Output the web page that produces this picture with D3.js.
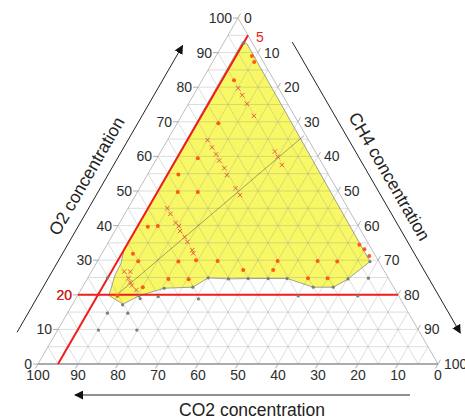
<!DOCTYPE html>
<html>
<head>
<meta charset="utf-8">
<script src="https://cdn.jsdelivr.net/npm/d3@7"></script>
<style>
  html, body { margin: 0; padding: 0; background: #fff; }
  svg { display: block; }
</style>
</head>
<body>
<svg id="chart" width="465" height="419"></svg>
<script>
// ---- values (each point is [O2 %, CH4 %]; CO2 = 100 - O2 - CH4) ----
const tickValues = d3.range(0, 101, 10);
const gridValues = d3.range(5, 100, 5);

const ch4Limit = 5;   // red reference line of constant CH4
const o2Limit = 20;   // red reference line of constant O2

// shaded zone outline
const zoneBoundary = [
  [93.2, 4.6], [92.5, 6.0], [29.6, 68.2], [24.3, 65.0], [22.2, 62.7], [22.2, 57.7],
  [24.7, 50.0], [24.7, 45.2], [24.7, 40.2], [24.6, 35.3], [24.9, 30.1], [22.2, 27.6],
  [21.9, 20.6], [19.7, 15.4], [17.3, 12.6], [19.8, 7.8], [21.6, 7.4], [25.7, 6.4],
  [29.1, 6.2], [33.0, 5.0]
];

// filled orange points
const orangeDots = [
  [89.0, 9.0], [87.3, 10.4], [82.0, 8.0], [69.6, 10.3], [59.5, 10.2], [54.8, 7.7],
  [49.7, 10.1], [49.7, 15.1], [39.7, 7.6], [39.9, 10.0], [31.9, 7.8], [29.7, 10.2],
  [29.6, 20.3], [30.0, 24.5], [29.8, 30.0], [27.2, 37.7], [29.8, 45.0], [27.2, 45.2],
  [29.8, 55.0], [29.6, 60.0], [24.8, 55.1], [24.8, 60.0], [34.5, 63.1], [33.2, 65.0],
  [31.2, 67.2], [24.6, 20.3], [24.5, 25.4], [22.2, 15.1], [19.7, 10.0]
];

// red cross points
const redCrosses = [
  [79.7, 10.2], [77.7, 12.2], [75.2, 14.6], [71.7, 18.1], [61.4, 28.5], [59.9, 30.0],
  [57.5, 32.2], [54.6, 19.9], [50.8, 24.0], [48.8, 26.1], [64.7, 10.0], [62.6, 12.2],
  [60.6, 14.2], [58.8, 15.9], [56.6, 18.3], [45.0, 9.8], [43.4, 11.4], [40.8, 14.0],
  [39.9, 15.3], [38.4, 16.3], [36.7, 18.3], [35.3, 19.7], [32.9, 22.1], [32.0, 22.8],
  [26.7, 8.2], [26.7, 9.7], [24.8, 10.2], [23.6, 11.2], [22.7, 12.1], [21.4, 13.9]
];

// gray points
const grayDots = [
  [92.7, 5.0], [24.9, 4.9], [19.7, 10.0], [17.1, 12.6], [19.7, 15.4], [18.9, 16.1],
  [19.5, 20.3], [21.9, 20.6], [22.2, 27.6], [18.8, 30.7], [24.9, 30.1], [24.6, 35.3],
  [24.7, 40.2], [24.7, 45.2], [24.7, 49.9], [19.7, 55.2], [22.2, 57.7], [22.2, 62.7],
  [24.6, 65.2], [24.8, 70.2], [29.6, 68.2], [19.7, 70.1], [14.7, 10.0], [14.7, 15.1],
  [9.8, 10.2], [9.8, 19.8]
];

// thin trend line
const mixingLine = [[20.5, 10.0], [66.0, 33.5]];

// ---- layout ----
const L = 38, R = 438, B = 364, T = 18;
const yScale = d3.scaleLinear().domain([0, 100]).range([B, T]);
const xScale = d3.scaleLinear().domain([0, 100]).range([L, R]);
const pos = (o2, ch4) => [xScale(ch4 + o2 / 2), yScale(o2)];
const line = d3.line().x(d => pos(d[0], d[1])[0]).y(d => pos(d[0], d[1])[1]);

const FONT = "'Liberation Sans', Arial, Helvetica, sans-serif";
const svg = d3.select("#chart");
svg.append("rect").attr("width", 465).attr("height", 419).attr("fill", "#fff");

// shaded zone
svg.append("path")
  .datum(zoneBoundary)
  .attr("d", d => line(d) + "Z")
  .attr("fill", "#f8f866")
  .attr("stroke", "#8a8a8a")
  .attr("stroke-width", 0.8);

// triangular grid
const grid = svg.append("g").attr("stroke", "#8e8e8e").attr("stroke-opacity", 0.45)
  .attr("stroke-width", 0.65).attr("fill", "none");
gridValues.forEach(v => {
  grid.append("path").attr("d", line([[v, 0], [v, 100 - v]]));          // O2 constant
  grid.append("path").attr("d", line([[0, v], [100 - v, v]]));          // CH4 constant
  grid.append("path").attr("d", line([[0, 100 - v], [100 - v, 0]]));    // CO2 constant
});

// outer triangle
svg.append("path")
  .datum([[0, 0], [100, 0], [0, 100]])
  .attr("d", d => line(d) + "Z")
  .attr("fill", "none").attr("stroke", "#b5b5b5").attr("stroke-width", 0.9);
svg.append("path").attr("d", line([[0, 0], [0, 100]]))
  .attr("stroke", "#9a9a9a").attr("stroke-width", 1.4);

// ticks
const ticks = svg.append("g").attr("stroke", "#999").attr("stroke-width", 0.8);
tickValues.forEach(v => {
  const pl = pos(v, 0);
  ticks.append("line").attr("x1", pl[0]).attr("y1", pl[1]).attr("x2", pl[0] - 5).attr("y2", pl[1]);
  const pr = pos(100 - v, v);
  ticks.append("line").attr("x1", pr[0]).attr("y1", pr[1]).attr("x2", pr[0] + 2.5).attr("y2", pr[1] - 4.3);
  const pb = pos(0, 100 - v);
  ticks.append("line").attr("x1", pb[0]).attr("y1", pb[1]).attr("x2", pb[0] - 2.5).attr("y2", pb[1] + 4.3);
});

// trend line
svg.append("path").attr("d", line(mixingLine))
  .attr("stroke", "#555").attr("stroke-opacity", 0.6).attr("stroke-width", 0.9).attr("fill", "none");

// red reference lines
svg.append("path").attr("d", line([[0, ch4Limit], [100 - ch4Limit, ch4Limit]]))
  .attr("stroke", "#f21c1c").attr("stroke-width", 2).attr("fill", "none");
svg.append("path").attr("d", line([[o2Limit, 0], [o2Limit, 100 - o2Limit]]))
  .attr("stroke", "#f21c1c").attr("stroke-width", 2).attr("fill", "none");

// points
svg.append("g").selectAll("circle").data(grayDots).join("circle")
  .attr("cx", d => pos(d[0], d[1])[0]).attr("cy", d => pos(d[0], d[1])[1])
  .attr("r", 1.6).attr("fill", "#7c7c7c");

svg.append("g").selectAll("path").data(redCrosses).join("path")
  .attr("transform", d => `translate(${pos(d[0], d[1])})`)
  .attr("d", d3.symbol().type(d3.symbolX).size(14))
  .attr("fill", "none").attr("stroke", "#ea5f3e").attr("stroke-width", 1);

svg.append("g").selectAll("circle").data(orangeDots).join("circle")
  .attr("cx", d => pos(d[0], d[1])[0]).attr("cy", d => pos(d[0], d[1])[1])
  .attr("r", 2).attr("fill", "#ff5a10");

// tick labels
const labels = svg.append("g").attr("font-family", FONT).attr("font-size", 14).attr("fill", "#2e2e2e");
tickValues.forEach(v => {
  const pl = pos(v, 0);
  labels.append("text").attr("x", pl[0] - 6).attr("y", pl[1]).attr("dy", "0.35em")
    .attr("text-anchor", "end").text(v);
  const pr = pos(100 - v, v);
  labels.append("text").attr("x", pr[0] + 6).attr("y", pr[1]).attr("dy", "0.35em")
    .attr("text-anchor", "start").text(v);
  const pb = pos(0, 100 - v);
  labels.append("text").attr("x", pb[0]).attr("y", pb[1] + 11).attr("dy", "0.35em")
    .attr("text-anchor", "middle").text(v);
});

// red value labels
const topRed = pos(100 - ch4Limit, ch4Limit);
svg.append("text").attr("x", topRed[0] + 8).attr("y", topRed[1] + 2).attr("dy", "0.35em")
  .attr("font-family", FONT).attr("font-size", 14).attr("fill", "#f21c1c").text(ch4Limit);
const leftRed = pos(o2Limit, 0);
svg.append("text").attr("x", leftRed[0] - 6).attr("y", leftRed[1]).attr("dy", "0.35em")
  .attr("text-anchor", "end")
  .attr("font-family", FONT).attr("font-size", 14).attr("fill", "#f21c1c").text(o2Limit);

// axis arrows and titles
const defs = svg.append("defs");
defs.append("marker").attr("id", "head").attr("viewBox", "0 0 10 10")
  .attr("refX", 9).attr("refY", 5).attr("markerWidth", 9).attr("markerHeight", 9)
  .attr("markerUnits", "userSpaceOnUse").attr("orient", "auto")
  .append("path").attr("d", "M0,0L10,5L0,10Z").attr("fill", "#111");

function offsetPoint(start, dir, along, off) {
  const n = [dir[1], -dir[0]];
  return [start[0] + dir[0] * along + n[0] * off, start[1] + dir[1] * along + n[1] * off];
}
const s3 = Math.sqrt(3) / 2;
const leftStart = pos(0, 0), leftDir = [0.5, -s3];
const rightStart = pos(100, 0), rightDir = [0.5, s3];

const a1 = offsetPoint(leftStart, leftDir, 17, 34), a2 = offsetPoint(leftStart, leftDir, 348, 34);
svg.append("line").attr("x1", a1[0]).attr("y1", a1[1]).attr("x2", a2[0]).attr("y2", a2[1])
  .attr("stroke", "#222").attr("stroke-width", 1).attr("marker-end", "url(#head)");
const b1 = offsetPoint(rightStart, rightDir, 48, 35), b2 = offsetPoint(rightStart, rightDir, 384, 35);
svg.append("line").attr("x1", b1[0]).attr("y1", b1[1]).attr("x2", b2[0]).attr("y2", b2[1])
  .attr("stroke", "#222").attr("stroke-width", 1).attr("marker-end", "url(#head)");
svg.append("line").attr("x1", L + 372).attr("y1", B + 31).attr("x2", L + 37).attr("y2", B + 31)
  .attr("stroke", "#222").attr("stroke-width", 1).attr("marker-end", "url(#head)");

const t1 = offsetPoint(leftStart, leftDir, 187, 52);
svg.append("text").attr("transform", `translate(${t1}) rotate(-60)`)
  .attr("text-anchor", "middle").attr("dy", "0.35em")
  .attr("font-family", FONT).attr("font-size", 17.5).attr("fill", "#222").text("O2 concentration");
const t2 = offsetPoint(rightStart, rightDir, 213, 52);
svg.append("text").attr("transform", `translate(${t2}) rotate(60)`)
  .attr("text-anchor", "middle").attr("dy", "0.35em")
  .attr("font-family", FONT).attr("font-size", 17.5).attr("fill", "#222").text("CH4 concentration");
svg.append("text").attr("x", 252).attr("y", B + 46).attr("dy", "0.35em")
  .attr("text-anchor", "middle")
  .attr("font-family", FONT).attr("font-size", 17.5).attr("fill", "#222").text("CO2 concentration");
</script>
</body>
</html>
